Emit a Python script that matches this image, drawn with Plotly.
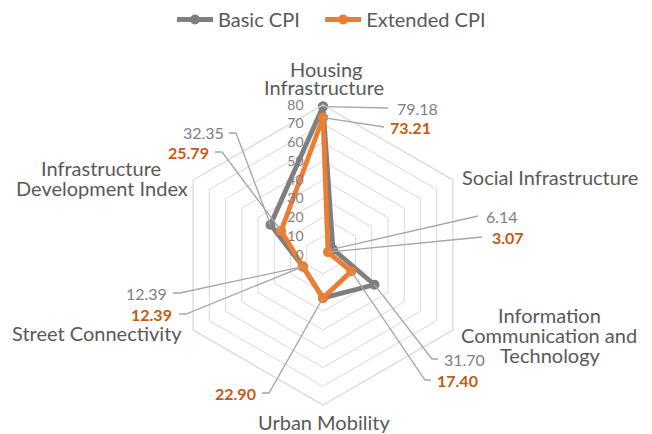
import math
import plotly.graph_objects as go

# ---------------- data ----------------
categories = [
    "Housing Infrastructure",
    "Social Infrastructure",
    "Information Communication and Technology",
    "Urban Mobility",
    "Street Connectivity",
    "Infrastructure Development Index",
]
category_label_lines = [
    ["Housing", "Infrastructure"],
    ["Social Infrastructure"],
    ["Information", "Communication and", "Technology"],
    ["Urban Mobility"],
    ["Street Connectivity"],
    ["Infrastructure", "Development Index"],
]
basic_cpi = [79.18, 6.14, 31.70, 22.90, 12.39, 32.35]
extended_cpi = [73.21, 3.07, 17.40, 22.90, 12.39, 25.79]
radial_tickvals = [0, 10, 20, 30, 40, 50, 60, 70, 80]
series_names = ["Basic CPI", "Extended CPI"]

# ---------------- styling / layout ----------------
W, H = 652, 434
CX, CY = 323, 255          # chart centre (px)
R1 = 150                   # radius of outer hexagon (px)
R2 = 175                   # radius of overlay polar used for leader lines
RMAX = 80
RMAX2 = RMAX * R2 / R1

GRAY = "#7f7f7f"
ORANGE = "#ED7D31"
ORANGE_TXT = "#C55A11"
GRID = "#d9d9d9"
LEADER = "#a6a6a6"
TXT = "#595959"
FONT = "Lato"
NBSP = "\u00a0"


def dom(R):
    return dict(x=[(CX - R) / W, (CX + R) / W], y=[(H - CY - R) / H, (H - CY + R) / H])


def px_to_polar(x, y):
    dx, dy = x - CX, y - CY
    r = math.hypot(dx, dy) / R1 * RMAX
    th = math.degrees(math.atan2(dx, -dy)) % 360
    return r, th


def paper(x, y):
    return x / W, 1 - y / H


n = len(categories)
theta_deg = [i * 360 / n for i in range(n)]

# label placement (pixels): leader path after the data point, text anchor
basic_label_pos = {
    0: dict(path=[(388, 108)], tx=395, ty=108, anchor="left"),
    1: dict(path=[(478, 216)], tx=484, ty=216, anchor="left"),
    2: dict(path=[(432, 359), (438, 359)], tx=442, ty=359, anchor="left"),
    4: dict(path=[(180, 293), (173, 293)], tx=169, ty=293, anchor="right"),
    5: dict(path=[(236, 133), (229, 133)], tx=226, ty=133, anchor="right"),
}
ext_label_pos = {
    0: dict(path=[(384, 127)], tx=388, ty=127, anchor="left"),
    1: dict(path=[(482, 237)], tx=490, ty=237, anchor="left"),
    2: dict(path=[(425, 380), (431, 380)], tx=435, ty=380, anchor="left"),
    3: dict(path=[(269, 393), (262, 393)], tx=258, ty=393, anchor="right"),
    4: dict(path=[(186, 314), (179, 314)], tx=174, ty=314, anchor="right"),
    5: dict(path=[(222, 152), (215, 152)], tx=211, ty=152, anchor="right"),
}

# category label line positions (pixels): x, y-middle of each line, anchor
cat_pos = [
    [(326, 69, "center"), (324, 87, "center")],
    [(460, 177, "left")],
    [(549, 315, "center"), (549, 335, "center"), (550, 355, "center")],
    [(324, 422, "center")],
    [(184, 333, "right")],
    [(101, 168, "center"), (101.5, 188, "center")],
]

fig = go.Figure()

# main series on the category (hexagon) polar
legend_names = [series_names[0] + NBSP * 3, series_names[1]]
for name, vals, col in [(legend_names[0], basic_cpi, GRAY), (legend_names[1], extended_cpi, ORANGE)]:
    fig.add_trace(go.Scatterpolar(
        r=vals + [vals[0]],
        theta=categories + [categories[0]],
        mode="lines+markers",
        name=name,
        line=dict(color=col, width=4.8),
        marker=dict(color=col, size=10),
        subplot="polar",
    ))

annotations = []
# leader lines on overlay polar + labels
for vals, pos, txtcol, bold in [(basic_cpi, basic_label_pos, GRAY, False),
                                (extended_cpi, ext_label_pos, ORANGE_TXT, True)]:
    for i, p in pos.items():
        rs = [vals[i]]
        ths = [theta_deg[i]]
        for (x, y) in p["path"]:
            r, th = px_to_polar(x, y)
            rs.append(r)
            ths.append(th)
        fig.add_trace(go.Scatterpolar(
            r=rs, theta=ths, mode="lines",
            line=dict(color=LEADER, width=1.3),
            showlegend=False, hoverinfo="skip",
            subplot="polar2", cliponaxis=False,
        ))
        label = f"{vals[i]:.2f}"
        ax, ay = paper(p["tx"], p["ty"])
        annotations.append(dict(
            x=ax, y=ay, xref="paper", yref="paper",
            text=f"<b>{label}</b>" if bold else label,
            showarrow=False, xanchor=p["anchor"], yanchor="middle",
            font=dict(family=FONT, size=16, color=txtcol),
        ))

# category labels
for lines, positions in zip(category_label_lines, cat_pos):
    for line, (x, y, anc) in zip(lines, positions):
        ax, ay = paper(x, y)
        annotations.append(dict(
            x=ax, y=ay, xref="paper", yref="paper",
            text=line, showarrow=False, xanchor=anc, yanchor="middle",
            font=dict(family=FONT, size=20, color=TXT),
        ))

lx, _ = paper(172, 0)
fig.update_layout(
    width=W, height=H,
    margin=dict(l=0, r=0, t=0, b=0, autoexpand=False),
    paper_bgcolor="white",
    font=dict(family=FONT, color=TXT),
    showlegend=True,
    legend=dict(orientation="h", x=lx, xanchor="left", y=1.0, yanchor="top",
                itemwidth=36,
                font=dict(family=FONT, size=20, color=TXT)),
    polar=dict(
        domain=dom(R1),
        bgcolor="white",
        gridshape="linear",
        angularaxis=dict(
            rotation=90, direction="clockwise", showticklabels=False, ticks="",
            showgrid=False, showline=True, linecolor=GRID, linewidth=1.3,
        ),
        radialaxis=dict(
            range=[0, RMAX], tickvals=radial_tickvals, angle=90, tickangle=90,
            side="counterclockwise", showline=False,
            ticks="outside", ticklen=14, tickcolor="rgba(0,0,0,0)",
            gridcolor=GRID, gridwidth=1.3,
            tickfont=dict(family=FONT, size=14, color=GRAY),
        ),
    ),
    polar2=dict(
        domain=dom(R2),
        bgcolor="rgba(0,0,0,0)",
        angularaxis=dict(rotation=90, direction="clockwise", visible=False),
        radialaxis=dict(range=[0, RMAX2], visible=False),
    ),
    annotations=annotations,
)

fig.write_html("out.html", config={"displayModeBar": False},
               post_script="document.body.style.margin='0px';")
